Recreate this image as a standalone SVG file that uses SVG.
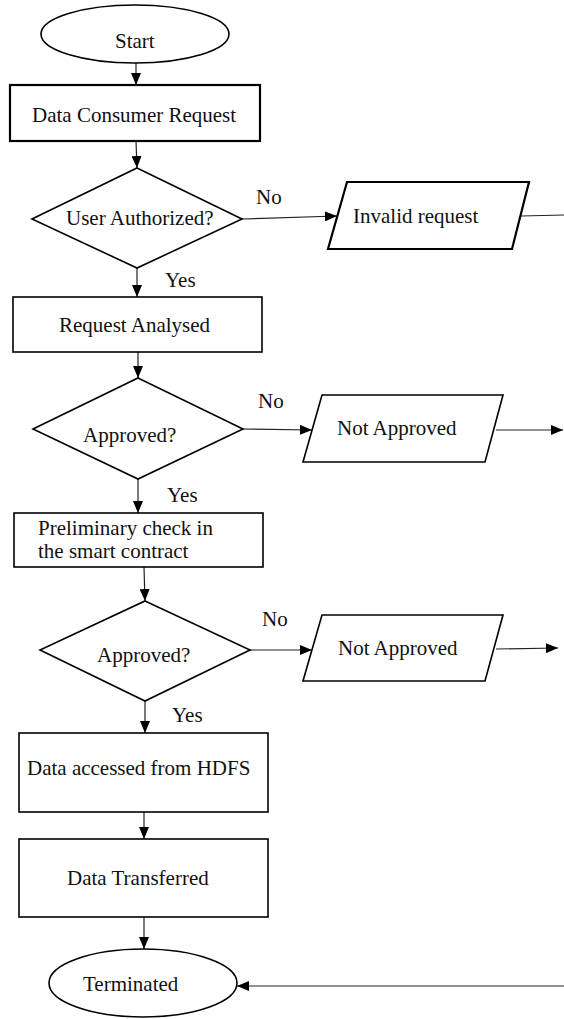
<svg xmlns="http://www.w3.org/2000/svg" width="564" height="1019" viewBox="0 0 564 1019">
  <style>
    .shape { fill: #ffffff; stroke: #000000; stroke-width: 1.6; }
    .thick { stroke-width: 2.2; }
    .label { font-family: "Liberation Serif", "Times New Roman", serif; font-size: 21px; fill: #111111; }
    .edge { fill: none; stroke: #222222; stroke-width: 1.2; }
  </style>
  <defs>
    <marker id="arrow" markerUnits="userSpaceOnUse" markerWidth="12" markerHeight="10" refX="12" refY="5" orient="auto">
      <path d="M0,0 L12,5 L0,10 Z" fill="#000000"/>
    </marker>
  </defs>

  <rect width="564" height="1019" fill="#ffffff"/>

  <!-- connectors -->
  <g id="connectors">
    <line class="edge" x1="136" y1="63" x2="136" y2="85" marker-end="url(#arrow)"/>
    <line class="edge" x1="136" y1="141" x2="137" y2="168" marker-end="url(#arrow)"/>
    <line class="edge" x1="242" y1="219" x2="337" y2="216" marker-end="url(#arrow)"/>
    <line class="edge" x1="521" y1="216" x2="564" y2="215"/>
    <line class="edge" x1="137" y1="268" x2="137" y2="297" marker-end="url(#arrow)"/>
    <line class="edge" x1="138" y1="352" x2="138" y2="378" marker-end="url(#arrow)"/>
    <line class="edge" x1="243" y1="429" x2="312" y2="430" marker-end="url(#arrow)"/>
    <line class="edge" x1="496" y1="430" x2="563" y2="430" marker-end="url(#arrow)"/>
    <line class="edge" x1="138" y1="479" x2="138" y2="513" marker-end="url(#arrow)"/>
    <line class="edge" x1="144" y1="567" x2="145" y2="601" marker-end="url(#arrow)"/>
    <line class="edge" x1="250" y1="650" x2="312" y2="650" marker-end="url(#arrow)"/>
    <line class="edge" x1="496" y1="649" x2="558" y2="648" marker-end="url(#arrow)"/>
    <line class="edge" x1="145" y1="701" x2="145" y2="733" marker-end="url(#arrow)"/>
    <line class="edge" x1="144" y1="812" x2="144" y2="839" marker-end="url(#arrow)"/>
    <line class="edge" x1="144" y1="917" x2="144" y2="949" marker-end="url(#arrow)"/>
    <line class="edge" x1="564" y1="986" x2="237" y2="986" marker-end="url(#arrow)"/>
    <text class="label" x="256" y="204">No</text>
    <text class="label" x="165" y="287">Yes</text>
    <text class="label" x="258" y="408">No</text>
    <text class="label" x="167" y="502">Yes</text>
    <text class="label" x="262" y="626">No</text>
    <text class="label" x="172" y="722">Yes</text>
  </g>

  <g id="start">
    <ellipse class="shape" cx="135" cy="34" rx="94" ry="29"/>
    <text class="label" x="115" y="48">Start</text>
  </g>

  <g id="consumer-request">
    <rect class="shape thick" x="10" y="85" width="250" height="56"/>
    <text class="label" x="32" y="122">Data Consumer Request</text>
  </g>

  <g id="user-authorized">
    <polygon class="shape" points="137,168 242,219 137,268 32,219"/>
    <text class="label" x="66" y="225">User Authorized?</text>
  </g>

  <g id="invalid-request">
    <polygon class="shape thick" points="347,182 529,182 512,249 328,249"/>
    <text class="label" x="353" y="223">Invalid request</text>
  </g>

  <g id="request-analysed">
    <rect class="shape" x="13" y="297" width="249" height="55"/>
    <text class="label" x="59" y="332">Request Analysed</text>
  </g>

  <g id="approved-1">
    <polygon class="shape" points="138,378 243,429 138,479 33,429"/>
    <text class="label" x="83" y="442">Approved?</text>
  </g>

  <g id="not-approved-1">
    <polygon class="shape" points="322,395 503,395 485,462 303,462"/>
    <text class="label" x="337" y="435">Not Approved</text>
  </g>

  <g id="preliminary-check">
    <rect class="shape" x="14" y="513" width="249" height="54"/>
    <text class="label" x="38" y="535">Preliminary check in</text>
    <text class="label" x="38" y="558">the smart contract</text>
  </g>

  <g id="approved-2">
    <polygon class="shape" points="145,601 250,650 145,701 40,650"/>
    <text class="label" x="97" y="662">Approved?</text>
  </g>

  <g id="not-approved-2">
    <polygon class="shape" points="322,615 503,615 485,681 303,681"/>
    <text class="label" x="338" y="655">Not Approved</text>
  </g>

  <g id="data-accessed">
    <rect class="shape" x="19" y="733" width="249" height="79"/>
    <text class="label" x="27" y="775">Data accessed from HDFS</text>
  </g>

  <g id="data-transferred">
    <rect class="shape" x="19" y="839" width="249" height="78"/>
    <text class="label" x="67" y="885">Data Transferred</text>
  </g>

  <g id="terminated">
    <ellipse class="shape" cx="143" cy="983" rx="94" ry="34"/>
    <text class="label" x="83" y="991">Terminated</text>
  </g>
</svg>
